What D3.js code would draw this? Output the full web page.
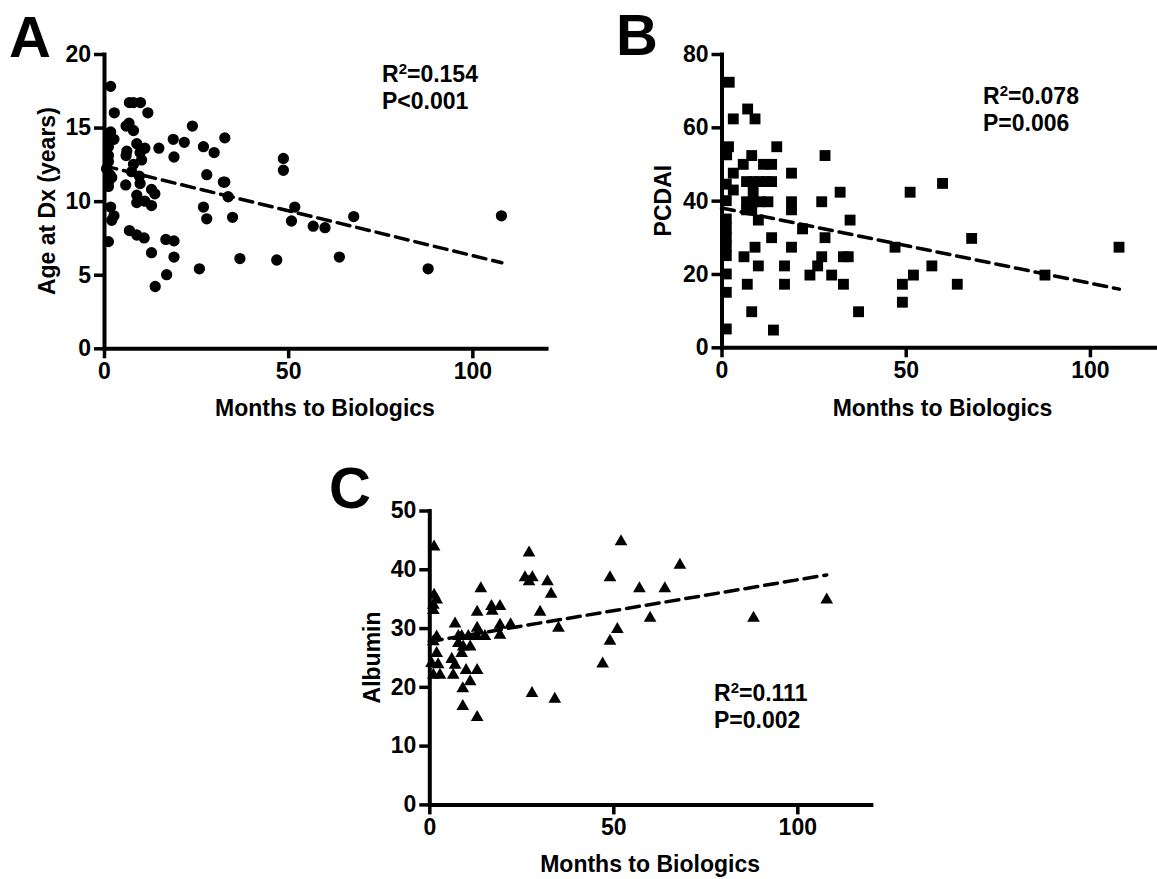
<!DOCTYPE html>
<html>
<head>
<meta charset="utf-8">
<script src="https://cdn.jsdelivr.net/npm/d3@7/dist/d3.min.js"></script>
<style>
  html, body { margin: 0; padding: 0; background: #fff; }
  svg { display: block; }
  text { font-family: "Liberation Sans", Arial, Helvetica, sans-serif; font-weight: bold; fill: #000; }
</style>
</head>
<body>
<svg id="chart" width="1157" height="879"></svg>
<script>
// ---------------- DATA ----------------
const monthsA = [1.8,2.8,6.9,8.0,9.9,11.9,6.0,6.8,8.0,1.8,1.2,2.7,24.0,18.8,21.8,32.8,27.0,29.9,19.0,14.9,8.9,6.2,6.0,11.1,9.8,8.0,10.2,7.5,9.6,9.8,5.9,12.9,13.8,8.9,8.9,11.1,12.9,1.2,1.2,1.2,0.7,1.6,1.2,2.1,1.2,27.9,32.4,32.8,33.7,27.0,27.9,34.9,1.8,2.7,2.1,1.2,6.9,8.9,10.9,12.9,16.8,19.0,19.0,13.9,17.0,25.9,36.9,48.7,48.7,51.8,50.9,56.8,60.0,67.8,46.9,63.9,88.0,107.9];
const ageDx  = [17.8,16.0,16.7,16.7,16.7,16.0,15.1,15.3,14.8,14.7,14.4,14.2,15.1,14.2,14.0,14.3,13.7,13.3,13.0,13.6,13.9,13.4,13.1,13.6,13.3,12.5,12.8,12.0,11.7,11.2,11.1,10.8,10.5,10.4,9.9,10.0,9.7,13.7,13.1,12.7,12.2,11.8,11.3,11.6,11.0,11.8,11.3,11.3,10.3,9.6,8.8,8.9,9.6,9.0,8.7,7.25,8.0,7.7,7.5,6.5,7.4,7.3,6.2,4.2,5.0,5.4,6.1,12.9,12.1,9.6,8.65,8.3,8.2,8.95,6.0,6.2,5.4,9.0];

const monthsB = [2.1,3.2,7.1,9.1,1.9,1.4,8.2,15.0,5.9,11.4,13.6,19.0,3.2,6.8,8.6,10.4,12.2,13.6,3.2,8.6,6.8,8.6,10.4,12.6,19.0,19.0,27.2,32.2,34.9,6.8,8.2,10.0,22.0,13.6,28.1,9.1,19.0,6.1,27.2,33.1,34.4,10.0,17.1,26.1,24.0,29.9,7.0,17.1,33.1,8.2,37.2,14.1,28.1,1.3,1.3,1.3,1.3,1.3,1.3,1.3,1.3,1.3,1.3,51.2,60.0,47.1,52.1,49.1,49.1,57.1,64.0,67.9,87.8,107.9];
const pcdai   = [72.3,62.3,65.0,62.3,54.7,52.5,52.3,54.7,49.9,49.9,49.9,47.5,47.5,45.2,45.2,45.2,45.2,45.2,42.9,42.5,39.7,39.7,39.7,39.7,39.7,37.5,39.7,42.3,34.7,37.5,37.5,34.7,32.3,29.9,29.9,27.3,27.3,24.7,24.7,24.7,24.7,22.2,22.2,22.2,19.7,19.7,17.2,17.2,17.2,9.7,9.7,4.7,52.3,44.5,40.0,35.0,32.5,30.0,27.5,25.0,20.0,15.0,5.0,42.3,44.7,27.3,19.7,17.2,12.3,22.2,17.2,29.7,19.7,27.3];

const monthsC = [1.3,27.1,26.0,28.0,27.1,32.1,33.1,49.1,1.3,2.0,1.1,1.1,14.0,16.9,19.2,17.1,13.0,30.1,7.0,13.0,19.2,22.1,19.2,35.1,49.1,2.0,1.1,7.9,8.8,10.6,12.9,15.1,7.9,9.2,11.1,8.8,2.0,6.1,7.0,2.4,0.6,2.9,6.5,1.1,10.0,13.0,11.1,9.1,47.1,27.9,34.1,9.1,13.0,52.1,57.1,64.0,68.1,60.0,51.1,88.1,108.0];
const albumin = [43.8,42.8,38.6,38.6,37.9,37.9,35.8,38.6,35.6,34.8,33.9,33.0,36.7,33.7,33.7,32.9,32.7,32.7,30.7,30.0,30.5,30.6,28.8,30.0,27.8,28.5,27.7,28.6,28.6,28.6,28.6,28.6,27.4,26.8,26.8,25.7,25.7,24.7,23.7,23.8,24.0,22.0,22.0,22.0,22.8,22.8,20.9,19.7,23.9,18.9,17.9,16.7,14.8,44.7,36.7,36.7,40.7,31.7,29.8,31.7,34.8];

// regression lines: [intercept, slope, xStart, xEnd]
const fitA = [12.4, -0.061, 0, 108];
const fitB = [38.0, -0.205, 0, 108];
const fitC = [27.7, 0.105, 0, 108];

const xTicks  = [0, 50, 100];
const yTicksA = [0, 5, 10, 15, 20];
const yTicksB = [0, 20, 40, 60, 80];
const yTicksC = [0, 10, 20, 30, 40, 50];

const statsA = ["0.154", "P<0.001"];
const statsB = ["0.078", "P=0.006"];
const statsC = ["0.111", "P=0.002"];

const yTitles = ["Age at Dx (years)", "PCDAI", "Albumin"];
const xTitle = "Months to Biologics";
const letters = ["A", "B", "C"];

// ---------------- LAYOUT ----------------
const svg = d3.select("#chart");

const panels = [
  { letter: letters[0], xs: monthsA, ys: ageDx, fit: fitA, yTicks: yTicksA, yMax: 20, stats: statsA, yTitle: yTitles[0],
    x0: 104, x1: 546, yTop: 54, yBot: 348.3, sym: d3.symbolCircle, size: 100,
    letterPos: [9, 57], yTitleX: 47, statPos: [382, 82], xTitleY: 416 },
  { letter: letters[1], xs: monthsB, ys: pcdai, fit: fitB, yTicks: yTicksB, yMax: 80, stats: statsB, yTitle: yTitles[1],
    x0: 721.5, x1: 1163.6, yTop: 54, yBot: 347.3, sym: d3.symbolSquare, size: 118,
    letterPos: [616, 55], yTitleX: 663, statPos: [983, 104], xTitleY: 416 },
  { letter: letters[2], xs: monthsC, ys: albumin, fit: fitC, yTicks: yTicksC, yMax: 50, stats: statsC, yTitle: yTitles[2],
    x0: 429.3, x1: 870.9, yTop: 510.5, yBot: 804.4, sym: d3.symbolTriangle, size: 70,
    letterPos: [329, 508], yTitleX: 372, statPos: [714, 701], xTitleY: 872 }
];

panels.forEach(p => {
  const x = d3.scaleLinear().domain([0, 120]).range([p.x0, p.x1]);
  const y = d3.scaleLinear().domain([0, p.yMax]).range([p.yBot, p.yTop]);
  const g = svg.append("g");

  // axes
  const xAxis = d3.axisBottom(x).tickValues(xTicks).tickSize(10).tickSizeOuter(0).tickPadding(4);
  const yAxis = d3.axisLeft(y).tickValues(p.yTicks).tickSize(10).tickSizeOuter(0).tickPadding(3);

  const gx = g.append("g").attr("transform", `translate(0,${p.yBot})`).call(xAxis);
  const gy = g.append("g").attr("transform", `translate(${p.x0},0)`).call(yAxis);
  [gx, gy].forEach(a => {
    a.select(".domain").attr("stroke", "#000").attr("stroke-width", 4).attr("stroke-linecap", "square");
    a.selectAll(".tick line").attr("stroke", "#000").attr("stroke-width", 3.5);
    a.selectAll(".tick text").style("font-family", '"Liberation Sans", Arial, sans-serif')
      .style("font-weight", "bold").style("font-size", "23px").attr("fill", "#000");
  });

  // points
  g.append("g").selectAll("path")
    .data(p.xs.map((v, i) => [v, p.ys[i]]))
    .join("path")
    .attr("transform", d => `translate(${x(d[0])},${y(d[1])})`)
    .attr("d", d3.symbol().type(p.sym).size(p.size))
    .attr("fill", "#000");

  // regression line
  const [b0, b1, xs0, xs1] = p.fit;
  g.append("line")
    .attr("x1", x(xs0)).attr("y1", y(b0 + b1 * xs0))
    .attr("x2", x(xs1)).attr("y2", y(b0 + b1 * xs1))
    .attr("stroke", "#000").attr("stroke-width", 3.5)
    .attr("stroke-dasharray", "13,7").attr("stroke-linecap", "round");

  // stats text
  const t1 = g.append("text").attr("x", p.statPos[0]).attr("y", p.statPos[1]).style("font-size", "23px");
  t1.append("tspan").text("R");
  t1.append("tspan").attr("dy", -8).style("font-size", "15px").text("2");
  t1.append("tspan").attr("dy", 8).text("=" + p.stats[0]);
  g.append("text").attr("x", p.statPos[0]).attr("y", p.statPos[1] + 27).style("font-size", "23px").text(p.stats[1]);

  // axis titles
  g.append("text").attr("text-anchor", "middle")
    .attr("transform", `translate(${p.yTitleX},${(p.yTop + p.yBot) / 2}) rotate(-90)`)
    .attr("dy", "0.35em").style("font-size", "23px").text(p.yTitle);
  g.append("text").attr("text-anchor", "middle")
    .attr("x", (x(0) + x(120)) / 2).attr("y", p.xTitleY)
    .style("font-size", "23px").text(xTitle);

  // panel letter
  g.append("text").attr("x", p.letterPos[0]).attr("y", p.letterPos[1])
    .style("font-size", "58px").text(p.letter);
});
</script>
</body>
</html>
